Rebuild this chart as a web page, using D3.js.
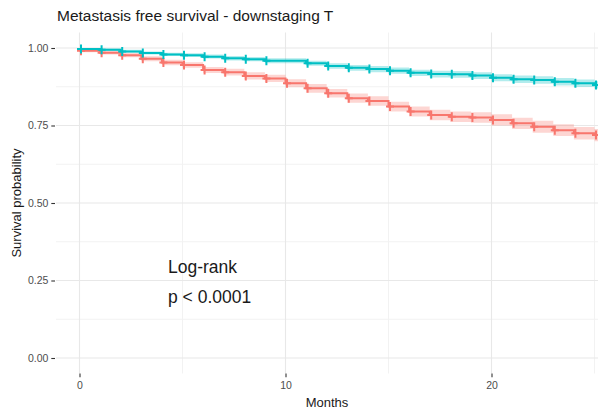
<!DOCTYPE html>
<html>
<head>
<meta charset="utf-8">
<script src="https://cdn.jsdelivr.net/npm/d3@7/dist/d3.min.js"></script>
<style>
  html, body { margin: 0; padding: 0; background: #fff; }
  svg { display: block; font-family: "Liberation Sans", Arial, sans-serif; }
</style>
</head>
<body>
<svg id="chart" width="598" height="412"></svg>
<script>
// Follow-up time (months) at which each step begins
const months = [0,1,2,3,4,5,6,7,8,9,10,11,12,13,14,15,16,17,18,19,20,21,22,23,24,25,26];

// Downstaged group (teal)
const survDown  = [0.997,0.994,0.989,0.984,0.979,0.977,0.972,0.967,0.964,0.959,0.959,0.951,0.942,0.936,0.932,0.927,0.920,0.916,0.915,0.911,0.904,0.899,0.897,0.891,0.886,0.881,0.881];
const lowerDown = [0.994,0.990,0.985,0.979,0.974,0.971,0.966,0.960,0.957,0.951,0.951,0.943,0.933,0.927,0.922,0.917,0.910,0.905,0.904,0.900,0.893,0.887,0.885,0.879,0.874,0.869,0.869];
const upperDown = [1.000,0.998,0.994,0.989,0.985,0.983,0.979,0.974,0.971,0.967,0.967,0.959,0.951,0.945,0.942,0.937,0.930,0.927,0.926,0.922,0.915,0.911,0.909,0.903,0.898,0.893,0.893];
const censorDown = [0,1,2,3,4,5,6,7,8,9,11,12,13,14,15,16,17,18,19,20,21,22,23,24,25];

// Not downstaged group (salmon)
const survNot  = [0.991,0.985,0.977,0.965,0.953,0.945,0.929,0.922,0.910,0.902,0.886,0.870,0.854,0.838,0.829,0.811,0.795,0.784,0.778,0.776,0.768,0.757,0.746,0.735,0.725,0.719,0.719];
const lowerNot = [0.986,0.979,0.970,0.957,0.944,0.936,0.919,0.911,0.898,0.890,0.873,0.856,0.840,0.823,0.814,0.795,0.779,0.767,0.761,0.759,0.750,0.739,0.727,0.716,0.705,0.699,0.699];
const upperNot = [0.996,0.991,0.984,0.973,0.962,0.954,0.939,0.933,0.922,0.914,0.899,0.884,0.868,0.853,0.844,0.827,0.811,0.801,0.795,0.793,0.786,0.775,0.765,0.754,0.745,0.739,0.739];
const censorNot = [0,1,2,3,4,5,6,7,8,9,10,11,12,13,14,15,16,17,18,19,20,21,22,23,24,25];

// Axis ticks
const xTicks = [0, 10, 20];
const xMinor = [5, 15, 25];
const yTicks = [0, 0.25, 0.5, 0.75, 1];
const yMinor = [0.125, 0.375, 0.625, 0.875];

const svg = d3.select("#chart");
const panel = { left: 56, right: 598, top: 32.5, bottom: 373.5 };

const x = d3.scaleLinear().domain([0, 10]).range([79.5, 285.5]);
const y = d3.scaleLinear().domain([0, 1]).range([358, 48]);

// Grid
const grid = svg.append("g");
grid.selectAll(".ymin").data(yMinor).join("line")
  .attr("x1", panel.left).attr("x2", panel.right)
  .attr("y1", d => y(d)).attr("y2", d => y(d))
  .attr("stroke", "#f2f2f2").attr("stroke-width", 1);
grid.selectAll(".xmin").data(xMinor).join("line")
  .attr("y1", panel.top).attr("y2", panel.bottom)
  .attr("x1", d => x(d)).attr("x2", d => x(d))
  .attr("stroke", "#f2f2f2").attr("stroke-width", 1);
grid.selectAll(".ymaj").data(yTicks).join("line")
  .attr("x1", panel.left).attr("x2", panel.right)
  .attr("y1", d => y(d)).attr("y2", d => y(d))
  .attr("stroke", "#e8e8e8").attr("stroke-width", 1.1);
grid.selectAll(".xmaj").data(xTicks).join("line")
  .attr("y1", panel.top).attr("y2", panel.bottom)
  .attr("x1", d => x(d)).attr("x2", d => x(d))
  .attr("stroke", "#e8e8e8").attr("stroke-width", 1.1);

// Clip region for the plot panel
svg.append("clipPath").attr("id", "panelClip")
  .append("rect").attr("x", panel.left).attr("y", panel.top)
  .attr("width", panel.right - panel.left).attr("height", panel.bottom - panel.top);

const plot = svg.append("g").attr("clip-path", "url(#panelClip)");

const groups = [
  { surv: survNot, lower: lowerNot, upper: upperNot, censor: censorNot, color: "#F8766D" },
  { surv: survDown, lower: lowerDown, upper: upperDown, censor: censorDown, color: "#00BFC4" }
];

const band = d3.area()
  .x(d => x(d.t)).y0(d => y(d.lo)).y1(d => y(d.hi))
  .curve(d3.curveStepAfter);
const line = d3.line()
  .x(d => x(d.t)).y(d => y(d.s))
  .curve(d3.curveStepAfter);

groups.forEach(g => {
  const pts = months.map((t, i) => ({ t, s: g.surv[i], lo: g.lower[i], hi: g.upper[i] }));
  plot.append("path").datum(pts).attr("d", band)
    .attr("fill", g.color).attr("fill-opacity", 0.3).attr("stroke", "none");
});

groups.forEach(g => {
  const pts = months.map((t, i) => ({ t, s: g.surv[i] }));
  plot.append("path").datum(pts).attr("d", line)
    .attr("fill", "none").attr("stroke", g.color).attr("stroke-width", 2);
  const marks = g.censor.map(t => ({ t, s: g.surv[months.indexOf(t)] }));
  const m = plot.append("g").selectAll("g").data(marks).join("g")
    .attr("transform", d => `translate(${x(d.t) + 1.5},${y(d.s)})`);
  m.append("line").attr("x1", -4).attr("x2", 4).attr("y1", 0).attr("y2", 0)
    .attr("stroke", g.color).attr("stroke-width", 2);
  m.append("line").attr("x1", 0).attr("x2", 0).attr("y1", -4.5).attr("y2", 4.5)
    .attr("stroke", g.color).attr("stroke-width", 2);
});

// Axes
const xAxis = svg.append("g").attr("transform", `translate(0,${panel.bottom})`)
  .call(d3.axisBottom(x).tickValues(xTicks).tickSize(3.7).tickPadding(4).tickFormat(d3.format("d")));
const yAxis = svg.append("g").attr("transform", `translate(${panel.left - 1},0)`)
  .call(d3.axisLeft(y).tickValues(yTicks).tickSize(3.7).tickPadding(3).tickFormat(d3.format(".2f")));
[xAxis, yAxis].forEach(a => {
  a.select(".domain").remove();
  a.selectAll(".tick line").attr("stroke", "#333").attr("stroke-width", 1.1);
  a.selectAll(".tick text").attr("fill", "#4d4d4d").style("font-size", "10.5px")
    .style("font-family", "Liberation Sans, Arial, sans-serif");
});

// Titles
svg.append("text").attr("x", 57).attr("y", 21)
  .attr("fill", "#1a1a1a").style("font-size", "15.5px")
  .text("Metastasis free survival - downstaging T");
svg.append("text").attr("x", (panel.left + panel.right) / 2).attr("y", 407)
  .attr("text-anchor", "middle").attr("fill", "#1a1a1a").style("font-size", "13px")
  .text("Months");
svg.append("text").attr("transform", "translate(21,203) rotate(-90)")
  .attr("text-anchor", "middle").attr("fill", "#1a1a1a").style("font-size", "13px")
  .text("Survival probability");

// Log-rank annotation
svg.append("text").attr("x", 168).attr("y", 273)
  .attr("fill", "#1a1a1a").style("font-size", "17.5px").text("Log-rank");
svg.append("text").attr("x", 168).attr("y", 303)
  .attr("fill", "#1a1a1a").style("font-size", "17.5px").text("p < 0.0001");
</script>
</body>
</html>
